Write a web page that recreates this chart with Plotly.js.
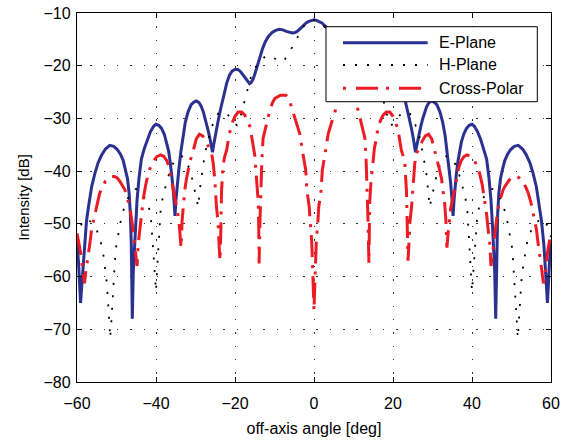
<!DOCTYPE html>
<html><head><meta charset="utf-8">
<script src="https://cdn.plot.ly/plotly-3.0.1.min.js"></script>
<style>html,body{margin:0;padding:0;background:#fff}#chart{width:568px;height:443px}</style>
</head><body><div id="chart"></div>
<script>
// E-Plane (solid blue)
const eAngle = [-60,-59.6,-59.1,-58.6,-58.2,-57.6,-57.1,-56.3,-55.5,-54.7,-53.8,-52.8,-51.7,-50.7,-49.8,-49,-48.3,-47.7,-47.2,-46.8,-46.5,-46.25,-46,-45.75,-45.5,-45.2,-44.8,-44.3,-43.7,-43,-42.2,-41.4,-40.6,-40,-39.3,-38.6,-37.9,-37.3,-36.8,-36.4,-36,-35.7,-35.45,-35.2,-34.95,-34.6,-34.2,-33.7,-33.2,-32.6,-31.9,-31.1,-30.4,-29.8,-29.1,-28.5,-28,-27.5,-27.1,-26.7,-26.3,-26,-25.7,-25.4,-25.1,-24.7,-24.2,-23.7,-23.2,-22.7,-22.1,-21.4,-20.7,-20,-19.3,-18.6,-17.9,-17.2,-16.7,-16.3,-15.9,-15.4,-14.9,-14.3,-13.7,-13,-12.3,-11.5,-10.6,-9.7,-8.8,-7.9,-7,-6.2,-5.5,-4.8,-4.1,-3.4,-2.7,-2,-1.3,-0.6,0,
  0.6,1.3,2,2.7,3.4,4.1,4.8,5.5,6.2,7,7.9,8.8,9.7,10.6,11.5,12.3,13,13.7,14.3,14.9,15.4,15.9,16.3,16.7,17.2,17.9,18.6,19.3,20,20.7,21.4,22.1,22.7,23.2,23.7,24.2,24.7,25.1,25.4,25.7,26,26.3,26.7,27.1,27.5,28,28.5,29.1,29.8,30.4,31.1,31.9,32.6,33.2,33.7,34.2,34.6,34.95,35.2,35.45,35.7,36,36.4,36.8,37.3,37.9,38.6,39.3,40,40.6,41.4,42.2,43,43.7,44.3,44.8,45.2,45.5,45.75,46,46.25,46.5,46.8,47.2,47.7,48.3,49,49.8,50.7,51.7,52.8,53.8,54.7,55.5,56.3,57.1,57.6,58.2,58.6,59.1,59.6,60];
const eDb = [-53.5,-57.5,-65,-59.5,-54,-49.5,-46.8,-43,-40.5,-38.5,-37,-35.8,-35.1,-35.3,-35.9,-36.8,-38,-39.7,-41.5,-44.2,-48,-54,-68,-59,-55,-50.5,-45.5,-41.3,-37.7,-35.8,-34,-32.5,-31.5,-31.1,-31.3,-31.9,-33,-34.5,-36.2,-38.3,-40.8,-43,-45.5,-48.5,-45.5,-42.3,-39.5,-36.3,-33.3,-30.8,-28.8,-27.4,-26.9,-26.7,-27,-27.8,-28.8,-30.1,-31.3,-32.6,-34,-35.2,-36.4,-35,-33.6,-32,-30.2,-28.4,-26.8,-25.2,-23.3,-21.8,-21,-20.7,-20.7,-21.1,-21.8,-22.6,-23.1,-23.4,-23.2,-22.5,-21.4,-19.9,-18.2,-16.7,-15.4,-14.4,-13.7,-13.3,-13.1,-13.2,-13.5,-13.7,-13.8,-13.7,-13.4,-12.9,-12.4,-11.9,-11.6,-11.4,-11.3,
  -11.4,-11.6,-11.9,-12.4,-12.9,-13.4,-13.7,-13.8,-13.7,-13.5,-13.2,-13.1,-13.3,-13.7,-14.4,-15.4,-16.7,-18.2,-19.9,-21.4,-22.5,-23.2,-23.4,-23.1,-22.6,-21.8,-21.1,-20.7,-20.7,-21,-21.8,-23.3,-25.2,-26.8,-28.4,-30.2,-32,-33.6,-35,-36.4,-35.2,-34,-32.6,-31.3,-30.1,-28.8,-27.8,-27,-26.7,-26.9,-27.4,-28.8,-30.8,-33.3,-36.3,-39.5,-42.3,-45.5,-48.5,-45.5,-43,-40.8,-38.3,-36.2,-34.5,-33,-31.9,-31.3,-31.1,-31.5,-32.5,-34,-35.8,-37.7,-41.3,-45.5,-50.5,-55,-59,-68,-54,-48,-44.2,-41.5,-39.7,-38,-36.8,-35.9,-35.3,-35.1,-35.8,-37,-38.5,-40.5,-43,-46.8,-49.5,-54,-59.5,-65,-57.5,-53.5];

// H-Plane (dotted black)
const hAngle = [-60,-59.2,-58.3,-57.5,-56.9,-56,-55,-54.3,-53.8,-53.3,-52.9,-52.5,-52.2,-51.9,-51.6,-51.3,-51,-50.7,-50.4,-50.1,-49.6,-49,-48.2,-47.3,-46.3,-45.3,-44.5,-43.6,-42.7,-41.8,-41.3,-40.9,-40.6,-40.3,-40,-39.7,-39.4,-39.1,-38.8,-38.2,-37.3,-36.5,-35.7,-35,-34.2,-33.4,-32.5,-31.8,-31.2,-30.6,-30,-29.6,-29.3,-28.9,-28.5,-28,-27.4,-26.8,-26.2,-25.7,-25,-24.3,-23.5,-22.6,-21.7,-20.9,-20.1,-19.5,-18.9,-18.3,-17.9,-17.5,-17.1,-16.7,-16.2,-15.6,-14.9,-14.1,-13.2,-12.3,-11.5,-10.7,-9.8,-8.8,-8.1,-7.4,-6.6,-5.9,-5.1,-4.3,-3.6,-2.8,-2.1,-1.5,-0.7,0,
  0.7,1.5,2.1,2.8,3.6,4.3,5.1,5.9,6.6,7.4,8.1,8.8,9.8,10.7,11.5,12.3,13.2,14.1,14.9,15.6,16.2,16.7,17.1,17.5,17.9,18.3,18.9,19.5,20.1,20.9,21.7,22.6,23.5,24.3,25,25.7,26.2,26.8,27.4,28,28.5,28.9,29.3,29.6,30,30.6,31.2,31.8,32.5,33.4,34.2,35,35.7,36.5,37.3,38.2,38.8,39.1,39.4,39.7,40,40.3,40.6,40.9,41.3,41.8,42.7,43.6,44.5,45.3,46.3,47.3,48.2,49,49.6,50.1,50.4,50.7,51,51.3,51.6,51.9,52.2,52.5,52.9,53.3,53.8,54.3,55,56,56.9,57.5,58.3,59.2,60];
const hDb = [-52.5,-50.5,-49.3,-49,-49.3,-50.2,-51.2,-52.6,-54,-56,-58.4,-60.9,-64,-68,-71.7,-68.5,-64.2,-60.5,-57,-54.4,-52,-49.7,-47.3,-45.4,-44.1,-43.4,-43.4,-44.2,-45.3,-46.8,-48.8,-52.3,-56.2,-59.5,-62.8,-58.5,-54.8,-51,-47.1,-44.6,-42.1,-40,-38.6,-37.7,-37.2,-37.2,-37.8,-39,-40.2,-42.3,-44.3,-45.7,-46.8,-43.5,-40.8,-38.5,-36,-33.8,-32.2,-31.3,-30,-29.1,-28.7,-28.8,-29.4,-30.3,-31,-31.3,-30.4,-28.8,-27.6,-26.4,-25.2,-24,-22.7,-21.5,-20.4,-19.6,-18.8,-18.2,-18,-18.2,-18.7,-19.3,-19.2,-18.8,-18,-17,-15.8,-14.6,-13.6,-12.7,-12.1,-11.7,-11.4,-11.3,
  -11.4,-11.7,-12.1,-12.7,-13.6,-14.6,-15.8,-17,-18,-18.8,-19.2,-19.3,-18.7,-18.2,-18,-18.2,-18.8,-19.6,-20.4,-21.5,-22.7,-24,-25.2,-26.4,-27.6,-28.8,-30.4,-31.3,-31,-30.3,-29.4,-28.8,-28.7,-29.1,-30,-31.3,-32.2,-33.8,-36,-38.5,-40.8,-43.5,-46.8,-45.7,-44.3,-42.3,-40.2,-39,-37.8,-37.2,-37.2,-37.7,-38.6,-40,-42.1,-44.6,-47.1,-51,-54.8,-58.5,-62.8,-59.5,-56.2,-52.3,-48.8,-46.8,-45.3,-44.2,-43.4,-43.4,-44.1,-45.4,-47.3,-49.7,-52,-54.4,-57,-60.5,-64.2,-68.5,-71.7,-68,-64,-60.9,-58.4,-56,-54,-52.6,-51.2,-50.2,-49.3,-49,-49.3,-50.5,-52.5];

// Cross-Polar (dash-dot red)
const cAngle = [-60,-59.6,-59.2,-58.8,-58.4,-58.1,-57.8,-57.4,-57.1,-56.7,-56.3,-55.8,-55.4,-54.9,-54.3,-53.6,-52.8,-52,-51.3,-50.5,-49.8,-49.1,-48.5,-47.9,-47.4,-47,-46.5,-46.1,-45.8,-45.5,-45.1,-44.8,-44.5,-44.1,-43.7,-43.2,-42.6,-42,-41.3,-40.5,-39.7,-38.8,-38,-37.2,-36.6,-36.1,-35.6,-35.1,-34.6,-34.2,-33.9,-33.65,-33.4,-33.1,-32.7,-32.3,-31.8,-31.3,-30.6,-29.8,-29,-28.2,-27.4,-26.6,-25.9,-25.5,-25.1,-24.7,-24.3,-24,-23.8,-23.6,-23.4,-23,-22.6,-22.1,-21.5,-20.8,-20,-19.2,-18.3,-17.5,-17,-16.2,-15.8,-15.3,-15,-14.8,-14.4,-14.1,-14,-13.9,-13.7,-13.5,-13.2,-12.9,-12,-11.2,-10.5,-9.9,-8.5,-7.1,-6.3,-5.7,-5.1,-4.6,-3.6,-2.8,-2.1,-1.8,-1.2,-1,-0.6,-0.4,-0.2,0,
  0.2,0.4,0.6,1,1.2,1.8,2.1,2.8,3.6,4.6,5.1,5.7,6.3,7.1,8.5,9.9,10.5,11.2,12,12.9,13.2,13.5,13.7,13.9,14,14.1,14.4,14.8,15,15.3,15.8,16.2,17,17.5,18.3,19.2,20,20.8,21.5,22.1,22.6,23,23.4,23.6,23.8,24,24.3,24.7,25.1,25.5,25.9,26.6,27.4,28.2,29,29.8,30.6,31.3,31.8,32.3,32.7,33.1,33.4,33.65,33.9,34.2,34.6,35.1,35.6,36.1,36.6,37.2,38,38.8,39.7,40.5,41.3,42,42.6,43.2,43.7,44.1,44.5,44.8,45.1,45.5,45.8,46.1,46.5,47,47.4,47.9,48.5,49.1,49.8,50.5,51.3,52,52.8,53.6,54.3,54.9,55.4,55.8,56.3,56.7,57.1,57.4,57.8,58.1,58.4,58.8,59.2,59.6,60];
const cDb = [-51.8,-53.3,-55,-57.2,-60,-61.3,-59.2,-57.2,-56,-53.5,-51,-49.3,-48,-45.9,-44.3,-43,-41.9,-41.3,-41,-41,-41.3,-42,-42.7,-43.5,-44.6,-45.7,-47.5,-49.5,-51,-53.1,-56,-58,-53.8,-51.2,-48.2,-45.2,-42.6,-40.6,-39,-37.9,-37.2,-36.9,-37.2,-38.1,-39.5,-41.6,-43.7,-45.3,-47.1,-49.3,-52.2,-54.5,-49.5,-46.3,-43.5,-41.5,-39.8,-37.9,-36.2,-33.9,-33,-33.3,-34.3,-35.5,-36.7,-38.6,-41.7,-46.8,-49.5,-54.4,-57,-51.9,-43.6,-38.8,-37.2,-36,-33.2,-31,-29.6,-28.8,-28.8,-29.4,-30.1,-31.6,-33.8,-35.6,-37,-39.2,-42.3,-46,-50,-57.5,-50,-44.3,-38,-33.8,-31,-28.5,-27,-26.2,-25.6,-25.6,-26.4,-27.8,-29.1,-30.4,-32.9,-36.7,-39.8,-43.6,-46.8,-49.3,-53.1,-57,-61.5,-66.5,
  -61.5,-57,-53.1,-49.3,-46.8,-43.6,-39.8,-36.7,-32.9,-30.4,-29.1,-27.8,-26.4,-25.6,-25.6,-26.2,-27,-28.5,-31,-33.8,-38,-44.3,-50,-57.5,-50,-46,-42.3,-39.2,-37,-35.6,-33.8,-31.6,-30.1,-29.4,-28.8,-28.8,-29.6,-31,-33.2,-36,-37.2,-38.8,-43.6,-51.9,-57,-54.4,-49.5,-46.8,-41.7,-38.6,-36.7,-35.5,-34.3,-33.3,-33,-33.9,-36.2,-37.9,-39.8,-41.5,-43.5,-46.3,-49.5,-54.5,-52.2,-49.3,-47.1,-45.3,-43.7,-41.6,-39.5,-38.1,-37.2,-36.9,-37.2,-37.9,-39,-40.6,-42.6,-45.2,-48.2,-51.2,-53.8,-58,-56,-53.1,-51,-49.5,-47.5,-45.7,-44.6,-43.5,-42.7,-42,-41.3,-41,-41,-41.3,-41.9,-43,-44.3,-45.9,-48,-49.3,-51,-53.5,-56,-57.2,-59.2,-61.3,-60,-57.2,-55,-53.3,-51.8];

const seriesNames = ['E-Plane','H-Plane','Cross-Polar'];
const xTicks = [-60,-40,-20,0,20,40,60];
const yTicks = [-80,-70,-60,-50,-40,-30,-20,-10];

const FONT = 'Liberation Sans, Arial, Helvetica, sans-serif';
const colors = ['#2b3190', '#000000', '#ed1c24'];
const lineStyles = [
  {color:colors[0], width:3},
  {color:colors[1], width:1.8, dash:'2px,10.5px'},
  {color:colors[2], width:3, dash:'22px,8px,3px,8px'}
];
const traces = [
  {x:eAngle, y:eDb, name:seriesNames[0], mode:'lines', line:lineStyles[0]},
  {x:hAngle, y:hDb, name:seriesNames[1], mode:'lines', line:lineStyles[1]},
  {x:cAngle, y:cDb, name:seriesNames[2], mode:'lines', line:lineStyles[2]}
];

// Hand-built legend box (MATLAB style) in paper coordinates
const lg = {x0:0.5253, x1:0.9711, y0:0.7596, y1:0.9629, lx0:0.5612, lx1:0.7399, tx:0.7589,
            rows:[0.9195, 0.8591, 0.7959]};
const legendDash = [null, '2px,10px', '3px,10px,22px,8px'];
const shapes = [
  {type:'rect', xref:'paper', yref:'paper', x0:lg.x0, x1:lg.x1, y0:lg.y0, y1:lg.y1,
   fillcolor:'#fff', line:{color:'#000', width:1}, layer:'above'}
];
const annotations = [];
seriesNames.forEach((nm, i) => {
  const ln = {color:lineStyles[i].color, width:lineStyles[i].width};
  if (legendDash[i]) ln.dash = legendDash[i];
  shapes.push({type:'line', xref:'paper', yref:'paper', x0:lg.lx0, x1:lg.lx1,
    y0:lg.rows[i], y1:lg.rows[i], line:ln, layer:'above'});
  annotations.push({xref:'paper', yref:'paper', x:lg.tx, y:lg.rows[i], xanchor:'left', yanchor:'middle',
    text:nm, showarrow:false, font:{family:FONT, size:16, color:'#000'}});
});

const axisCommon = {
  showline:true, linecolor:'#000', linewidth:1.2, mirror:'ticks',
  ticks:'inside', ticklen:5, tickwidth:1, tickcolor:'#000',
  showgrid:true, gridcolor:'#333', gridwidth:1, griddash:'1.5px,11.8px',
  zeroline:false, tickfont:{family:FONT, size:16, color:'#000'}
};
const layout = {
  width:568, height:443,
  margin:{l:77, r:17, t:13, b:61},
  paper_bgcolor:'#fff', plot_bgcolor:'#fff',
  font:{family:FONT, size:16, color:'#000'},
  xaxis:Object.assign({}, axisCommon, {range:[-60,60], tickvals:xTicks, ticklabelstandoff:7,
    title:{text:'off-axis angle [deg]', font:{family:FONT,size:16,color:'#000'}, standoff:11}}),
  yaxis:Object.assign({}, axisCommon, {range:[-80,-10], tickvals:yTicks, ticklabelstandoff:2,
    title:{text:'Intensity [dB]', font:{family:FONT,size:15,color:'#000'}, standoff:10}}),
  showlegend:false,
  shapes:shapes,
  annotations:annotations
};
Plotly.newPlot('chart', traces, layout, {staticPlot:true, displayModeBar:false});
</script></body></html>
